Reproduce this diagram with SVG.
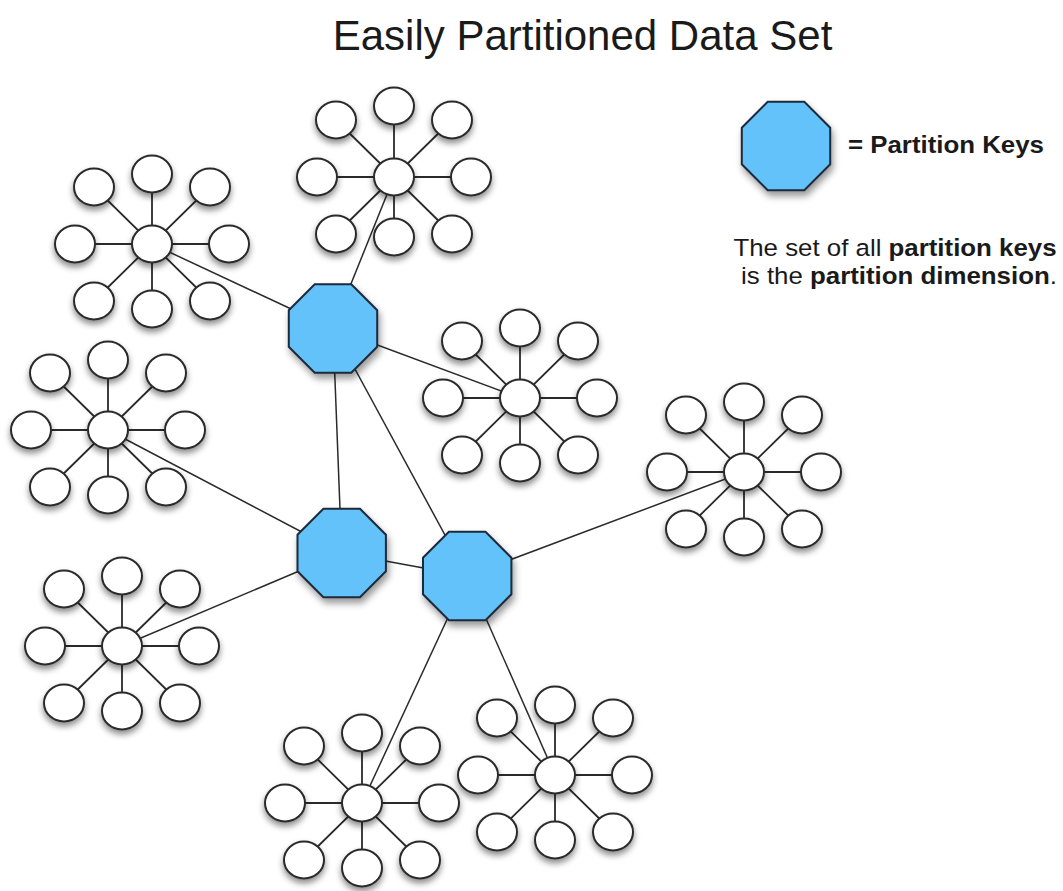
<svg xmlns="http://www.w3.org/2000/svg" xmlns:xlink="http://www.w3.org/1999/xlink" width="1063" height="891" viewBox="0 0 1063 891">
<style>
.leaf ellipse{fill:#fff;stroke:#2a2a2a;stroke-width:2;filter:url(#sh)}
.key use{fill:#63c2f9;stroke:#1d2a3a;stroke-width:2;filter:url(#shk)}
.spoke{fill:none;stroke:#2a2a2a;stroke-width:1.8}
.link{fill:none;stroke:#2a2a2a;stroke-width:1.5}
.title{font-family:"Liberation Sans",Arial,sans-serif;font-size:42px;fill:#1a1a1a}
.lt{font-family:"Liberation Sans",Arial,sans-serif;font-size:23.5px;fill:#1a1a1a}
.b{font-weight:bold}
</style>
<defs>
<filter id="sh" x="-40%" y="-40%" width="180%" height="190%">
<feDropShadow dx="0" dy="4" stdDeviation="3" flood-color="#000" flood-opacity="0.45"/>
</filter>
<filter id="shk" x="-30%" y="-30%" width="160%" height="170%">
<feDropShadow dx="2" dy="5" stdDeviation="3.5" flood-color="#000" flood-opacity="0.4"/>
</filter>
<polygon id="oct" points="-18.3,-44.2 18.3,-44.2 44.2,-18.3 44.2,18.3 18.3,44.2 -18.3,44.2 -44.2,18.3 -44.2,-18.3"/>
<path id="star" d="M0,-70V65M-58,-57L58,57M58,-57L-58,57M-77,0H77"/>
</defs>
<rect width="1063" height="891" fill="#fff"/>
<text class="title" x="582.5" y="50" text-anchor="middle">Easily Partitioned Data Set</text>

<g id="connectors">
<use href="#star" class="spoke" transform="translate(394,177)"/>
<use href="#star" class="spoke" transform="translate(152,244)"/>
<use href="#star" class="spoke" transform="translate(108,430)"/>
<use href="#star" class="spoke" transform="translate(520,398)"/>
<use href="#star" class="spoke" transform="translate(744,472)"/>
<use href="#star" class="spoke" transform="translate(122,646)"/>
<use href="#star" class="spoke" transform="translate(362,803)"/>
<use href="#star" class="spoke" transform="translate(555,775)"/>
<line class="link" x1="333" y1="328.5" x2="394" y2="177"/>
<line class="link" x1="333" y1="328.5" x2="152" y2="244"/>
<line class="link" x1="333" y1="328.5" x2="520" y2="398"/>
<line class="link" x1="333" y1="328.5" x2="341.7" y2="553"/>
<line class="link" x1="333" y1="328.5" x2="467.2" y2="576"/>
<line class="link" x1="341.7" y1="553" x2="467.2" y2="576"/>
<line class="link" x1="341.7" y1="553" x2="108" y2="430"/>
<line class="link" x1="341.7" y1="553" x2="122" y2="646"/>
<line class="link" x1="467.2" y1="576" x2="744" y2="472"/>
<line class="link" x1="467.2" y1="576" x2="362" y2="803"/>
<line class="link" x1="467.2" y1="576" x2="555" y2="775"/>
</g>

<g id="cluster1">
<g id="c1-center" class="leaf"><ellipse cx="394" cy="177" rx="20" ry="18.5"/></g>
<g id="c1-t" class="leaf"><ellipse cx="394" cy="106" rx="20" ry="18.5"/></g>
<g id="c1-tl" class="leaf"><ellipse cx="336" cy="120" rx="20" ry="18.5"/></g>
<g id="c1-tr" class="leaf"><ellipse cx="452" cy="120" rx="20" ry="18.5"/></g>
<g id="c1-l" class="leaf"><ellipse cx="317" cy="177" rx="20" ry="18.5"/></g>
<g id="c1-r" class="leaf"><ellipse cx="471" cy="177" rx="20" ry="18.5"/></g>
<g id="c1-bl" class="leaf"><ellipse cx="336" cy="234" rx="20" ry="18.5"/></g>
<g id="c1-b" class="leaf"><ellipse cx="394" cy="237" rx="20" ry="18.5"/></g>
<g id="c1-br" class="leaf"><ellipse cx="452" cy="234" rx="20" ry="18.5"/></g>
</g>

<g id="cluster2">
<g id="c2-center" class="leaf"><ellipse cx="152" cy="244" rx="20" ry="18.5"/></g>
<g id="c2-t" class="leaf"><ellipse cx="152" cy="174" rx="20" ry="18.5"/></g>
<g id="c2-tl" class="leaf"><ellipse cx="94" cy="187" rx="20" ry="18.5"/></g>
<g id="c2-tr" class="leaf"><ellipse cx="210" cy="187" rx="20" ry="18.5"/></g>
<g id="c2-l" class="leaf"><ellipse cx="75" cy="244" rx="20" ry="18.5"/></g>
<g id="c2-r" class="leaf"><ellipse cx="229" cy="244" rx="20" ry="18.5"/></g>
<g id="c2-bl" class="leaf"><ellipse cx="94" cy="301" rx="20" ry="18.5"/></g>
<g id="c2-b" class="leaf"><ellipse cx="152" cy="309" rx="20" ry="18.5"/></g>
<g id="c2-br" class="leaf"><ellipse cx="210" cy="301" rx="20" ry="18.5"/></g>
</g>

<g id="cluster3">
<g id="c3-center" class="leaf"><ellipse cx="108" cy="430" rx="20" ry="18.5"/></g>
<g id="c3-t" class="leaf"><ellipse cx="108" cy="360" rx="20" ry="18.5"/></g>
<g id="c3-tl" class="leaf"><ellipse cx="50" cy="373" rx="20" ry="18.5"/></g>
<g id="c3-tr" class="leaf"><ellipse cx="166" cy="373" rx="20" ry="18.5"/></g>
<g id="c3-l" class="leaf"><ellipse cx="31" cy="430" rx="20" ry="18.5"/></g>
<g id="c3-r" class="leaf"><ellipse cx="185" cy="430" rx="20" ry="18.5"/></g>
<g id="c3-bl" class="leaf"><ellipse cx="50" cy="487" rx="20" ry="18.5"/></g>
<g id="c3-b" class="leaf"><ellipse cx="108" cy="495" rx="20" ry="18.5"/></g>
<g id="c3-br" class="leaf"><ellipse cx="166" cy="487" rx="20" ry="18.5"/></g>
</g>

<g id="cluster4">
<g id="c4-center" class="leaf"><ellipse cx="520" cy="398" rx="20" ry="18.5"/></g>
<g id="c4-t" class="leaf"><ellipse cx="520" cy="328" rx="20" ry="18.5"/></g>
<g id="c4-tl" class="leaf"><ellipse cx="462" cy="341" rx="20" ry="18.5"/></g>
<g id="c4-tr" class="leaf"><ellipse cx="578" cy="341" rx="20" ry="18.5"/></g>
<g id="c4-l" class="leaf"><ellipse cx="443" cy="398" rx="20" ry="18.5"/></g>
<g id="c4-r" class="leaf"><ellipse cx="597" cy="398" rx="20" ry="18.5"/></g>
<g id="c4-bl" class="leaf"><ellipse cx="462" cy="455" rx="20" ry="18.5"/></g>
<g id="c4-b" class="leaf"><ellipse cx="520" cy="463" rx="20" ry="18.5"/></g>
<g id="c4-br" class="leaf"><ellipse cx="578" cy="455" rx="20" ry="18.5"/></g>
</g>

<g id="cluster5">
<g id="c5-center" class="leaf"><ellipse cx="744" cy="472" rx="20" ry="18.5"/></g>
<g id="c5-t" class="leaf"><ellipse cx="744" cy="402" rx="20" ry="18.5"/></g>
<g id="c5-tl" class="leaf"><ellipse cx="686" cy="415" rx="20" ry="18.5"/></g>
<g id="c5-tr" class="leaf"><ellipse cx="802" cy="415" rx="20" ry="18.5"/></g>
<g id="c5-l" class="leaf"><ellipse cx="667" cy="472" rx="20" ry="18.5"/></g>
<g id="c5-r" class="leaf"><ellipse cx="821" cy="472" rx="20" ry="18.5"/></g>
<g id="c5-bl" class="leaf"><ellipse cx="686" cy="529" rx="20" ry="18.5"/></g>
<g id="c5-b" class="leaf"><ellipse cx="744" cy="537" rx="20" ry="18.5"/></g>
<g id="c5-br" class="leaf"><ellipse cx="802" cy="529" rx="20" ry="18.5"/></g>
</g>

<g id="cluster6">
<g id="c6-center" class="leaf"><ellipse cx="122" cy="646" rx="20" ry="18.5"/></g>
<g id="c6-t" class="leaf"><ellipse cx="122" cy="576" rx="20" ry="18.5"/></g>
<g id="c6-tl" class="leaf"><ellipse cx="64" cy="589" rx="20" ry="18.5"/></g>
<g id="c6-tr" class="leaf"><ellipse cx="180" cy="589" rx="20" ry="18.5"/></g>
<g id="c6-l" class="leaf"><ellipse cx="45" cy="646" rx="20" ry="18.5"/></g>
<g id="c6-r" class="leaf"><ellipse cx="199" cy="646" rx="20" ry="18.5"/></g>
<g id="c6-bl" class="leaf"><ellipse cx="64" cy="703" rx="20" ry="18.5"/></g>
<g id="c6-b" class="leaf"><ellipse cx="122" cy="711" rx="20" ry="18.5"/></g>
<g id="c6-br" class="leaf"><ellipse cx="180" cy="703" rx="20" ry="18.5"/></g>
</g>

<g id="cluster7">
<g id="c7-center" class="leaf"><ellipse cx="362" cy="803" rx="20" ry="18.5"/></g>
<g id="c7-t" class="leaf"><ellipse cx="362" cy="733" rx="20" ry="18.5"/></g>
<g id="c7-tl" class="leaf"><ellipse cx="304" cy="746" rx="20" ry="18.5"/></g>
<g id="c7-tr" class="leaf"><ellipse cx="420" cy="746" rx="20" ry="18.5"/></g>
<g id="c7-l" class="leaf"><ellipse cx="285" cy="803" rx="20" ry="18.5"/></g>
<g id="c7-r" class="leaf"><ellipse cx="439" cy="803" rx="20" ry="18.5"/></g>
<g id="c7-bl" class="leaf"><ellipse cx="304" cy="860" rx="20" ry="18.5"/></g>
<g id="c7-b" class="leaf"><ellipse cx="362" cy="868" rx="20" ry="18.5"/></g>
<g id="c7-br" class="leaf"><ellipse cx="420" cy="860" rx="20" ry="18.5"/></g>
</g>

<g id="cluster8">
<g id="c8-center" class="leaf"><ellipse cx="555" cy="775" rx="20" ry="18.5"/></g>
<g id="c8-t" class="leaf"><ellipse cx="555" cy="705" rx="20" ry="18.5"/></g>
<g id="c8-tl" class="leaf"><ellipse cx="497" cy="718" rx="20" ry="18.5"/></g>
<g id="c8-tr" class="leaf"><ellipse cx="613" cy="718" rx="20" ry="18.5"/></g>
<g id="c8-l" class="leaf"><ellipse cx="478" cy="775" rx="20" ry="18.5"/></g>
<g id="c8-r" class="leaf"><ellipse cx="632" cy="775" rx="20" ry="18.5"/></g>
<g id="c8-bl" class="leaf"><ellipse cx="497" cy="832" rx="20" ry="18.5"/></g>
<g id="c8-b" class="leaf"><ellipse cx="555" cy="840" rx="20" ry="18.5"/></g>
<g id="c8-br" class="leaf"><ellipse cx="613" cy="832" rx="20" ry="18.5"/></g>
</g>

<g id="keyA" class="key"><use href="#oct" transform="translate(333,328.5)"/></g>
<g id="keyB" class="key"><use href="#oct" transform="translate(341.7,553)"/></g>
<g id="keyC" class="key"><use href="#oct" transform="translate(467.2,576)"/></g>

<g id="legend">
<g id="legend-key" class="key"><use href="#oct" transform="translate(786,146)"/></g>
<text class="lt b" transform="translate(848,153) scale(1.1,1)" x="0" y="0">= Partition Keys</text>
<text class="lt" transform="translate(895,256) scale(1.1,1)" x="0" y="0" text-anchor="middle">The set of all <tspan class="b">partition keys</tspan></text>
<text class="lt" transform="translate(899,284) scale(1.1,1)" x="0" y="0" text-anchor="middle">is the <tspan class="b">partition dimension</tspan>.</text>
</g>
</svg>
